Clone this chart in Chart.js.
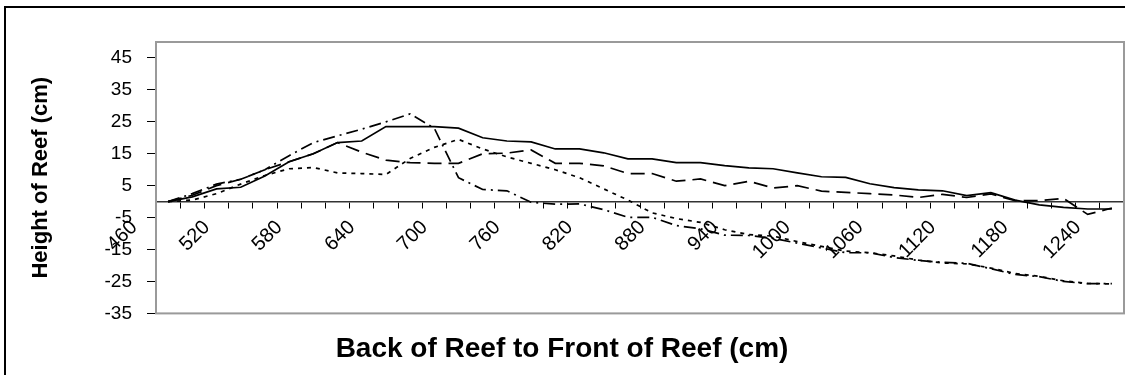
<!DOCTYPE html>
<html>
<head>
<meta charset="utf-8">
<script src="https://cdn.jsdelivr.net/npm/chart.js@4.4.1/dist/chart.umd.min.js"></script>
<style>
  body { margin: 0; background: #fff; }
  #frame { position: absolute; left: 4px; top: 6px; width: 1200px; height: 400px; border-left: 2px solid #000; border-top: 2px solid #000; }
  #chart { position: absolute; left: 0; top: 0; }
</style>
</head>
<body>
<div id="frame"></div>
<canvas id="chart" width="1125" height="375"></canvas>
<script>
const ctx = document.getElementById('chart');

const distances = [460, 480, 500, 520, 540, 560, 580, 600, 620, 640, 660, 680, 700, 720, 740, 760, 780, 800, 820, 840,
    860, 880, 900, 920, 940, 960, 980, 1000, 1020, 1040, 1060, 1080, 1100, 1120, 1140, 1160, 1180, 1200, 1220, 1240];
const yTicks = [-35, -25, -15, -5, 5, 15, 25, 35, 45];

const profileA = [0, 1.5, 4, 4.5, 8, 12.5, 15, 18.5, 19, 23.5, 23.5, 23.5, 23, 20, 19, 18.7, 16.5, 16.5, 15.3, 13.4,
    13.4, 12.2, 12.2, 11.3, 10.6, 10.3, 9, 7.8, 7.6, 5.6, 4.4, 3.7, 3.4, 1.9, 2.8, 0.5, -1, -1.8, -2.3, -2.3];
const profileB = [0, 2, 5, 7, 10, 12.5, 15, 18.5, 15.5, 13, 12.2, 12, 12, 15, 15.2, 16.2, 12, 12, 11.2, 8.8,
    8.8, 6.4, 7.1, 5, 6.4, 4.3, 5, 3.3, 2.9, 2.5, 2.1, 1.3, 2.3, 1.3, 2.4, 0.3, 0.3, 1, -4, -2];
const profileC = [0, 2.5, 5.5, 7, 10, 14.4, 18.5, 20.6, 22.7, 25, 27.5, 23, 7.5, 3.8, 3.4, -0.2, -0.8, -0.7, -2.5, -4.9,
    -4.9, -7.5, -8.5, -10.5, -10.6, -11.5, -13, -14.5, -16, -16, -17.5, -18.4, -19, -19.3, -21, -22.8, -23.5, -25, -25.7, -25.7];
const profileD = [0, 0.5, 2.5, 5.5, 8.2, 10.3, 10.7, 9, 8.8, 8.5, 13.5, 17, 19.5, 16.5, 14, 12, 10, 7.5, 4, 0.5,
    -3.5, -5.3, -6.5, -8.8, -10.3, -10.8, -12.5, -14, -15.5, -16, -17, -18.3, -19.2, -19.5, -20.8, -22.5, -23.4, -24.8, -25.6, -25.8];

Chart.defaults.font.family = "'Liberation Sans', Arial, sans-serif";
Chart.defaults.color = '#000';

// grey frame round the plot area
const plotFrame = {
    id: 'plotFrame',
    beforeDatasetsDraw(chart) {
        const a = chart.chartArea;
        const c = chart.ctx;
        c.save();
        c.strokeStyle = '#9a9a9a';
        c.lineWidth = 2;
        c.strokeRect(a.left, a.top, a.right - a.left, a.bottom - a.top);
        c.restore();
    }
};

function line(data, dash) {
    return {
        data: data,
        borderColor: '#000',
        borderWidth: 1.7,
        borderDash: dash,
        pointRadius: 0,
        tension: 0,
        fill: false
    };
}

const grafico = new Chart(ctx, {
    type: 'line',
    data: {
        labels: distances,
        datasets: [
            line(profileA, []),
            line(profileB, [14, 7]),
            line(profileC, [12, 5, 2, 5]),
            line(profileD, [4, 5])
        ]
    },
    options: {
        responsive: false,
        animation: false,
        devicePixelRatio: 1,
        layout: { autoPadding: false, padding: { left: 0, top: 42, right: 1, bottom: 0 } },
        plugins: {
            legend: { display: false },
            tooltip: { enabled: false },
            title: {
                display: true,
                position: 'bottom',
                text: 'Back of Reef to Front of Reef (cm)',
                font: { size: 28, weight: 'bold' },
                padding: { top: 19, bottom: 9 }
            }
        },
        scales: {
            x: {
                type: 'category',
                offset: true,
                position: { y: 0 },
                afterFit: s => { s.paddingLeft = 0; s.paddingRight = 0; },
                grid: { drawOnChartArea: false, offset: true, color: '#000', tickLength: 6, tickWidth: 1 },
                border: { color: '#333', width: 1.5 },
                ticks: {
                    autoSkip: false,
                    minRotation: 45,
                    maxRotation: 45,
                    labelOffset: -34,
                    padding: 8,
                    font: { size: 20 },
                    callback: function (v, i) { return i % 3 === 0 ? distances[i] : ''; }
                }
            },
            y: {
                min: -35,
                max: 50,
                afterBuildTicks: s => { s.ticks = yTicks.map(v => ({ value: v })); },
                afterFit: s => { s.width = 156; },
                grid: { drawOnChartArea: false, color: '#000', tickLength: 9 },
                border: { color: '#555', width: 2 },
                ticks: { padding: 15, font: { size: 19 } },
                title: {
                    display: true,
                    text: 'Height of Reef (cm)',
                    font: { size: 22, weight: 'bold' },
                    padding: { top: 28, bottom: 0 }
                }
            }
        }
    },
    plugins: [plotFrame]
});
</script>
</body>
</html>
